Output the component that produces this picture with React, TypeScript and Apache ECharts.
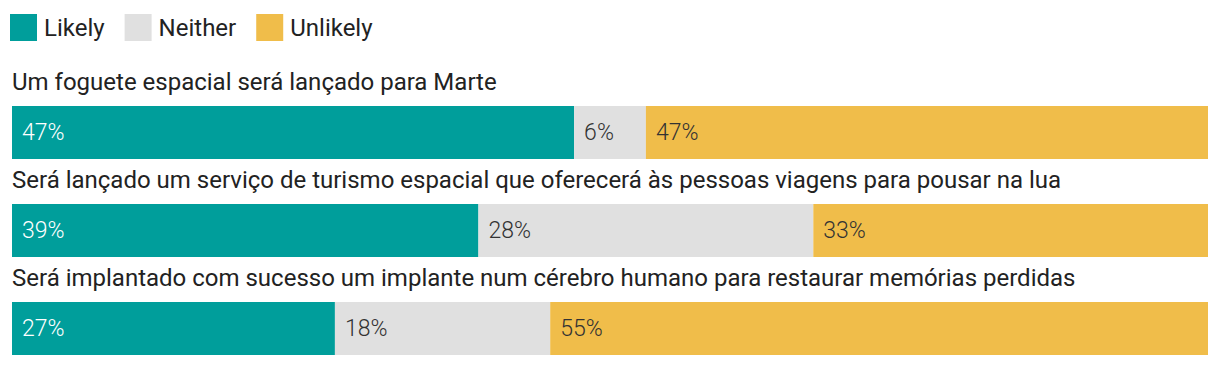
import React, { useEffect, useRef } from "react";
import * as echarts from "echarts";

const questions = [
  "Um foguete espacial será lançado para Marte",
  "Será lançado um serviço de turismo espacial que oferecerá às pessoas viagens para pousar na lua",
  "Será implantado com sucesso um implante num cérebro humano para restaurar memórias perdidas",
];
const likely = [47, 39, 27];
const neither = [6, 28, 18];
const unlikely = [47, 33, 55];
const seriesNames = ["Likely", "Neither", "Unlikely"];
const colors = ["#009e9b", "#e0e0e0", "#f0bd4a"];
const labelColors = ["#ffffff", "#333333", "#333333"];

export default function App() {
  const ref = useRef<HTMLDivElement>(null);
  useEffect(() => {
    if (!ref.current) return;
    const chart = echarts.init(ref.current, undefined, { renderer: "svg" });
    const values = [likely, neither, unlikely];
    const barTop0 = 106;
    const step = 98;
    const barH = 53;
    const grids = questions.map((_, i) => ({
      left: 12,
      right: 12,
      top: barTop0 + i * step,
      height: barH,
      containLabel: false,
    }));
    const xAxes = questions.map((_, i) => ({
      type: "value",
      gridIndex: i,
      min: 0,
      max: 100,
      show: false,
    }));
    const yAxes = questions.map((q, i) => ({
      type: "category",
      gridIndex: i,
      data: [q],
      show: false,
    }));
    const series: any[] = [];
    questions.forEach((_, i) => {
      seriesNames.forEach((name, s) => {
        series.push({
          name,
          type: "bar",
          stack: "q" + i,
          xAxisIndex: i,
          yAxisIndex: i,
          barWidth: barH,
          data: [values[s][i]],
          itemStyle: { color: colors[s] },
          label: {
            show: true,
            position: "insideLeft",
            distance: 10,
            formatter: "{c}%",
            color: labelColors[s],
            fontFamily: "Roboto",
            fontWeight: 300,
            fontSize: 23,
          },
          emphasis: { disabled: true },
        });
      });
    });
    chart.setOption({
      animation: false,
      textStyle: { fontFamily: "Roboto" },
      legend: {
        data: seriesNames,
        left: 10,
        top: 14,
        padding: 0,
        icon: "rect",
        itemWidth: 27,
        itemHeight: 27,
        itemGap: 20,
        textStyle: { fontSize: 24, color: "#222", fontFamily: "Roboto", padding: [0, 0, 0, 2] },
        selectedMode: false,
      },
      grid: grids,
      xAxis: xAxes,
      yAxis: yAxes,
      series,
      graphic: questions.map((q, i) => ({
        type: "text",
        left: 12,
        top: barTop0 + i * step - 36,
        style: {
          text: q,
          fontSize: 24,
          fontFamily: "Roboto",
          fill: "#222",
        },
      })),
    });
    return () => chart.dispose();
  }, []);
  return (
    <div
      ref={ref}
      style={{ position: "absolute", left: 0, top: 0, width: 1220, height: 368 }}
    />
  );
}
